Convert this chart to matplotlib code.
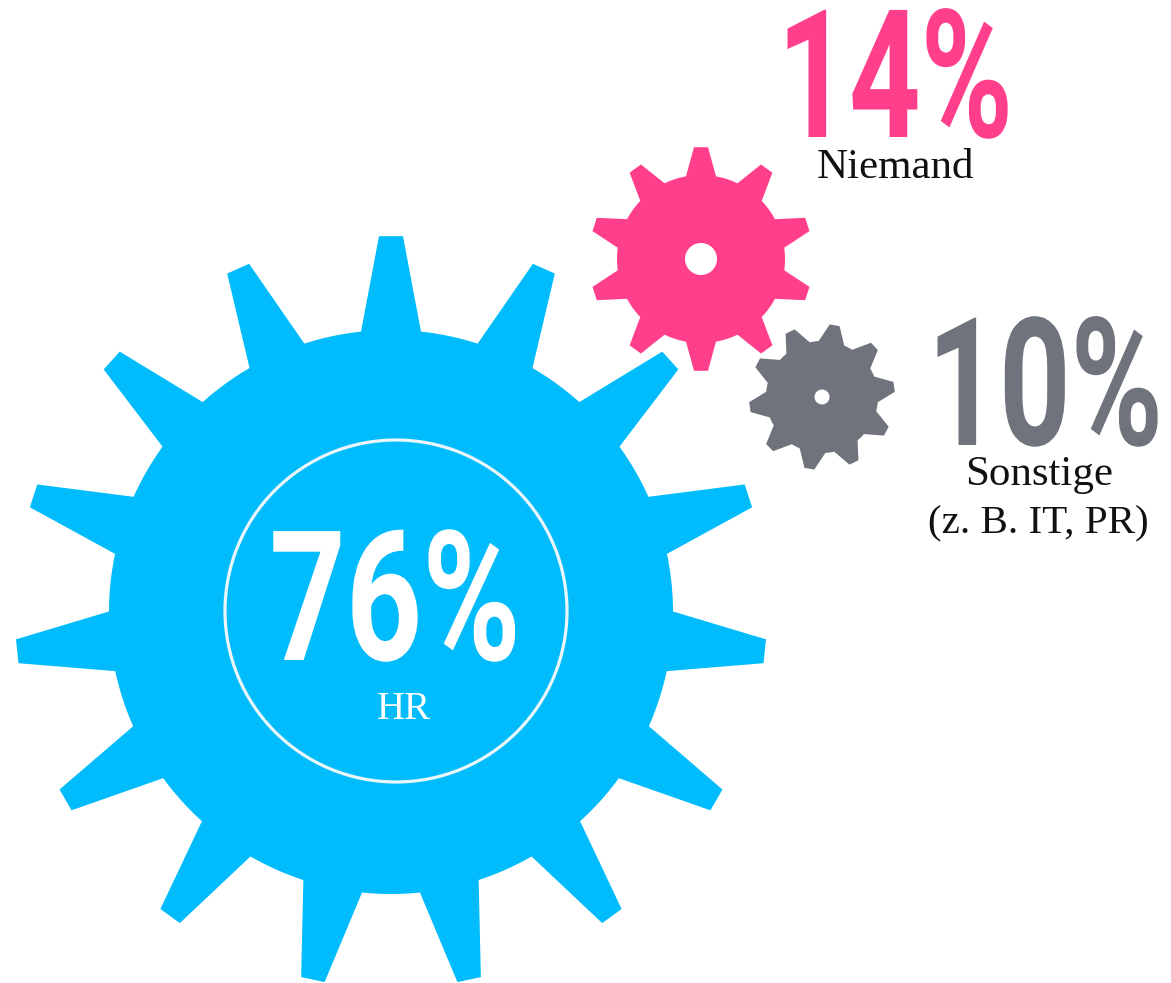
import numpy as np
import matplotlib
matplotlib.use("Agg")
import matplotlib.pyplot as plt
from matplotlib.patches import Circle, Polygon
from matplotlib.patheffects import AbstractPathEffect
from matplotlib.transforms import Affine2D

# chart values
shares = [76, 14, 10]
labels = ["HR", "Niemand", "Sonstige\n(z. B. IT, PR)"]
teeth = [15, 10, 10]

BLUE = "#00BCFC"
PINK = "#FF3F8C"
GREY = "#6F737C"


class Tall(AbstractPathEffect):
    # stretches glyphs upwards from the baseline, gives a condensed look
    def __init__(self, sy):
        super().__init__()
        self.sy = sy

    def draw_path(self, renderer, gc, tpath, affine, rgbFace=None):
        renderer.draw_path(gc, tpath, Affine2D().scale(1, self.sy) + affine, rgbFace)


def gear_outline(cx, cy, n, r_body, r_tip, base_w, tip_w, start):
    # one tooth after the other, with a piece of the body circle between them
    xs, ys = [], []
    step = 2 * np.pi / n
    for i in range(n):
        a = np.radians(start) - i * step
        base = np.arcsin(base_w / r_body)
        tip = np.arcsin(tip_w / r_tip)
        angles = [a - base, a - tip, a + tip, a + base]
        radii = [r_body, r_tip, r_tip, r_body]
        # going clockwise, so the order of the tooth corners is reversed
        for ang, r in zip(angles[::-1], radii[::-1]):
            xs.append(cx + r * np.cos(ang))
            ys.append(cy - r * np.sin(ang))
        arc = np.linspace(a - base, a - step + base, 12)[1:-1]
        xs.extend(cx + r_body * np.cos(arc))
        ys.extend(cy - r_body * np.sin(arc))
    return np.column_stack([xs, ys])


fig = plt.figure(figsize=(11.71, 9.83), dpi=100)
ax = fig.add_axes([0, 0, 1, 1])
ax.set_xlim(0, 1171)
ax.set_ylim(983, 0)
ax.axis("off")

# big gear with the ring
ax.add_patch(Polygon(gear_outline(391, 612, teeth[0], 282, 376, 30, 12, 90), color=BLUE, lw=0))
ax.add_patch(Circle((396, 611), 171, fill=False, ec="#EAF6FA", lw=2.3))

# pink and grey gears, each with a hole
ax.add_patch(Polygon(gear_outline(701, 259, teeth[1], 84, 112, 15, 7, 90), color=PINK, lw=0))
ax.add_patch(Circle((701, 259), 16, color="white", lw=0))
ax.add_patch(Polygon(gear_outline(822, 397, teeth[2], 56, 73, 13, 5, 80), color=GREY, lw=0))
ax.add_patch(Circle((822, 397), 7.5, color="white", lw=0))

# percentages
for share, x, y, size, sy, col in [
    (shares[0], 395, 660, 96, 1.36, "white"),
    (shares[1], 895, 137, 90, 1.43, PINK),
    (shares[2], 1045, 445, 90, 1.43, GREY),
]:
    ax.text(x, y, f"{share}%", color=col, fontsize=size, family="Roboto", weight="bold",
            ha="center", va="baseline", path_effects=[Tall(sy)])

# labels below the percentages
serif = "Liberation Serif"
ax.text(404, 719, labels[0], color="white", fontsize=28, family=serif, ha="center", va="baseline")
ax.text(895, 178, labels[1], color="#111111", fontsize=31, family=serif, ha="center", va="baseline")
first, second = labels[2].split("\n")
ax.text(1039, 485, first, color="#111111", fontsize=31, family=serif, ha="center", va="baseline")
ax.text(1038, 533, second, color="#111111", fontsize=29.5, family=serif, ha="center", va="baseline")

fig.savefig("out.png", dpi=100)
